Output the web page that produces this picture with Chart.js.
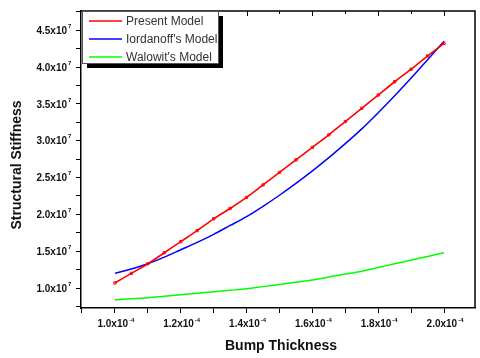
<!DOCTYPE html>
<html>
<head>
<meta charset="utf-8">
<script src="https://cdn.jsdelivr.net/npm/chart.js@4.4.0/dist/chart.umd.min.js"></script>
<style>
    html, body { margin: 0; padding: 0; background: #fff; }
    #wrap { width: 480px; height: 358px; position: relative; }
</style>
</head>
<body>
<div id="wrap"><canvas id="stiffChart"></canvas></div>
<script>
// bump thickness (m)
const thickness = [1.00e-4, 1.05e-4, 1.10e-4, 1.15e-4, 1.20e-4, 1.25e-4, 1.30e-4, 1.35e-4, 1.40e-4, 1.45e-4, 1.50e-4,
                   1.55e-4, 1.60e-4, 1.65e-4, 1.70e-4, 1.75e-4, 1.80e-4, 1.85e-4, 1.90e-4, 1.95e-4, 2.00e-4];

// structural stiffness (N/m)
const presentModel = [1.07e7, 1.20e7, 1.33e7, 1.48e7, 1.63e7, 1.78e7, 1.94e7, 2.08e7, 2.23e7, 2.40e7, 2.57e7,
                      2.74e7, 2.91e7, 3.08e7, 3.26e7, 3.44e7, 3.62e7, 3.80e7, 3.97e7, 4.15e7, 4.32e7];
const iordanoffModel = [1.20e7, 1.26e7, 1.33e7, 1.42e7, 1.52e7, 1.62e7, 1.73e7, 1.85e7, 1.97e7, 2.11e7, 2.26e7,
                        2.42e7, 2.59e7, 2.77e7, 2.96e7, 3.16e7, 3.38e7, 3.61e7, 3.85e7, 4.10e7, 4.35e7];
const walowitModel = [0.84e7, 0.855e7, 0.87e7, 0.89e7, 0.91e7, 0.93e7, 0.95e7, 0.97e7, 0.99e7, 1.02e7, 1.05e7,
                      1.08e7, 1.11e7, 1.15e7, 1.19e7, 1.23e7, 1.28e7, 1.33e7, 1.38e7, 1.43e7, 1.48e7];

const seriesNames = ['Present Model', "Iordanoff's Model", "Walowit's Model"];
const seriesColors = ['#ff0000', '#0000ff', '#00ff00'];

const xTicks = [0.9e-4, 1.0e-4, 1.1e-4, 1.2e-4, 1.3e-4, 1.4e-4, 1.5e-4, 1.6e-4, 1.7e-4, 1.8e-4, 1.9e-4, 2.0e-4];
const xLabelTicks = [1.0e-4, 1.2e-4, 1.4e-4, 1.6e-4, 1.8e-4, 2.0e-4];
const yTicks = [0.75e7, 1.0e7, 1.25e7, 1.5e7, 1.75e7, 2.0e7, 2.25e7, 2.5e7, 2.75e7, 3.0e7, 3.25e7, 3.5e7,
                3.75e7, 4.0e7, 4.25e7, 4.5e7, 4.75e7];
const yLabelTicks = [1.0e7, 1.5e7, 2.0e7, 2.5e7, 3.0e7, 3.5e7, 4.0e7, 4.5e7];

function toPoints(ys) {
    return thickness.map((x, i) => ({ x: x, y: ys[i] }));
}

// tick labels with superscript, titles, frame and the boxed legend
const originPlugin = {
    id: 'originStyle',
    afterDraw(chart) {
        const ctx = chart.ctx;
        const a = chart.chartArea;
        const xs = chart.scales.x;
        const ys = chart.scales.y;
        ctx.save();

        // top / right frame
        ctx.strokeStyle = '#000';
        ctx.lineWidth = 1.5;
        ctx.beginPath();
        ctx.moveTo(a.left, a.top);
        ctx.lineTo(a.right, a.top);
        ctx.lineTo(a.right, a.bottom);
        ctx.stroke();

        // inward ticks on top axis
        ctx.lineWidth = 1;
        xTicks.forEach(v => {
            const px = Math.round(xs.getPixelForValue(v)) + 0.5;
            const len = xLabelTicks.some(t => Math.abs(t - v) < 1e-9) ? 5 : 3;
            ctx.beginPath();
            ctx.moveTo(px, a.top);
            ctx.lineTo(px, a.top + len);
            ctx.stroke();
        });

        ctx.fillStyle = '#111';
        // y tick labels
        yLabelTicks.forEach(v => {
            const py = ys.getPixelForValue(v);
            ctx.font = 'bold 10px "Liberation Sans", Arial, sans-serif';
            ctx.textAlign = 'right';
            ctx.textBaseline = 'middle';
            ctx.fillText((v / 1e7).toFixed(1) + 'x10', 67, py + 1);
            ctx.font = 'bold 6px "Liberation Sans", Arial, sans-serif';
            ctx.textAlign = 'left';
            ctx.fillText('7', 68, py - 4);
        });

        // x tick labels
        xLabelTicks.forEach(v => {
            const px = xs.getPixelForValue(v);
            const main = (v / 1e-4).toFixed(1) + 'x10';
            ctx.font = 'bold 10px "Liberation Sans", Arial, sans-serif';
            const w1 = ctx.measureText(main).width;
            ctx.font = 'bold 6px "Liberation Sans", Arial, sans-serif';
            const w2 = ctx.measureText('-4').width;
            const start = px - (w1 + w2 + 1) / 2 + 1;
            ctx.textAlign = 'left';
            ctx.textBaseline = 'alphabetic';
            ctx.font = 'bold 10px "Liberation Sans", Arial, sans-serif';
            ctx.fillText(main, start, 327);
            ctx.font = 'bold 6px "Liberation Sans", Arial, sans-serif';
            ctx.fillText('-4', start + w1 + 1, 322);
        });

        // axis titles
        ctx.font = 'bold 14px "Liberation Sans", Arial, sans-serif';
        ctx.textAlign = 'center';
        ctx.textBaseline = 'middle';
        ctx.fillText('Bump Thickness', 281, 346);
        ctx.save();
        ctx.translate(17, 165);
        ctx.rotate(-Math.PI / 2);
        ctx.fillText('Structural Stiffness', 0, 0);
        ctx.restore();

        // legend box with drop shadow
        const bx = 82, by = 11, bw = 136, bh = 52;
        ctx.fillStyle = '#000';
        ctx.fillRect(bx + 5, by + 5, bw, bh);
        ctx.fillStyle = '#fff';
        ctx.fillRect(bx, by, bw, bh);
        ctx.strokeStyle = '#555';
        ctx.lineWidth = 1;
        ctx.strokeRect(bx + 0.5, by + 0.5, bw, bh);

        ctx.font = '12px "Liberation Sans", Arial, sans-serif';
        ctx.textAlign = 'left';
        ctx.textBaseline = 'middle';
        seriesNames.forEach((name, i) => {
            const ly = by + 10 + i * 18;
            ctx.strokeStyle = seriesColors[i];
            ctx.lineWidth = 1.5;
            ctx.beginPath();
            ctx.moveTo(89, ly);
            ctx.lineTo(122, ly);
            ctx.stroke();
            ctx.fillStyle = '#333';
            ctx.fillText(name, 126, ly + 1);
        });

        ctx.restore();
    }
};

const ctx = document.getElementById('stiffChart').getContext('2d');
const chart = new Chart(ctx, {
    type: 'line',
    data: {
        datasets: [
            {
                label: seriesNames[0],
                data: toPoints(presentModel),
                borderColor: seriesColors[0],
                borderWidth: 1.6,
                pointStyle: 'rect',
                pointRadius: 1.6,
                pointBorderWidth: 1,
                pointBorderColor: seriesColors[0],
                pointBackgroundColor: 'rgba(255,255,255,0)',
                tension: 0.3
            },
            {
                label: seriesNames[1],
                data: toPoints(iordanoffModel),
                borderColor: seriesColors[1],
                borderWidth: 1.5,
                pointRadius: 0,
                tension: 0.3
            },
            {
                label: seriesNames[2],
                data: toPoints(walowitModel),
                borderColor: seriesColors[2],
                borderWidth: 1.5,
                pointRadius: 0,
                tension: 0.3
            }
        ]
    },
    options: {
        responsive: true,
        maintainAspectRatio: false,
        animation: false,
        layout: { padding: { top: 11, right: 3, left: 0, bottom: 0 } },
        plugins: {
            legend: { display: false },
            tooltip: { enabled: false }
        },
        scales: {
            x: {
                type: 'linear',
                min: 0.897e-4,
                max: 2.094e-4,
                afterBuildTicks: scale => { scale.ticks = xTicks.map(v => ({ value: v })); },
                afterFit: scale => { scale.height = 50; },
                ticks: { display: false },
                grid: {
                    drawOnChartArea: false,
                    drawTicks: true,
                    tickLength: 5,
                    tickWidth: 1,
                    tickColor: '#000'
                },
                border: { color: '#000', width: 1.5 }
            },
            y: {
                type: 'linear',
                min: 0.73e7,
                max: 4.76e7,
                afterBuildTicks: scale => { scale.ticks = yTicks.map(v => ({ value: v })); },
                afterFit: scale => { scale.width = 81; },
                ticks: { display: false },
                grid: {
                    drawOnChartArea: false,
                    drawTicks: true,
                    tickLength: 5,
                    tickWidth: 1,
                    tickColor: '#000'
                },
                border: { color: '#000', width: 1.5 }
            }
        }
    },
    plugins: [originPlugin]
});
</script>
</body>
</html>
